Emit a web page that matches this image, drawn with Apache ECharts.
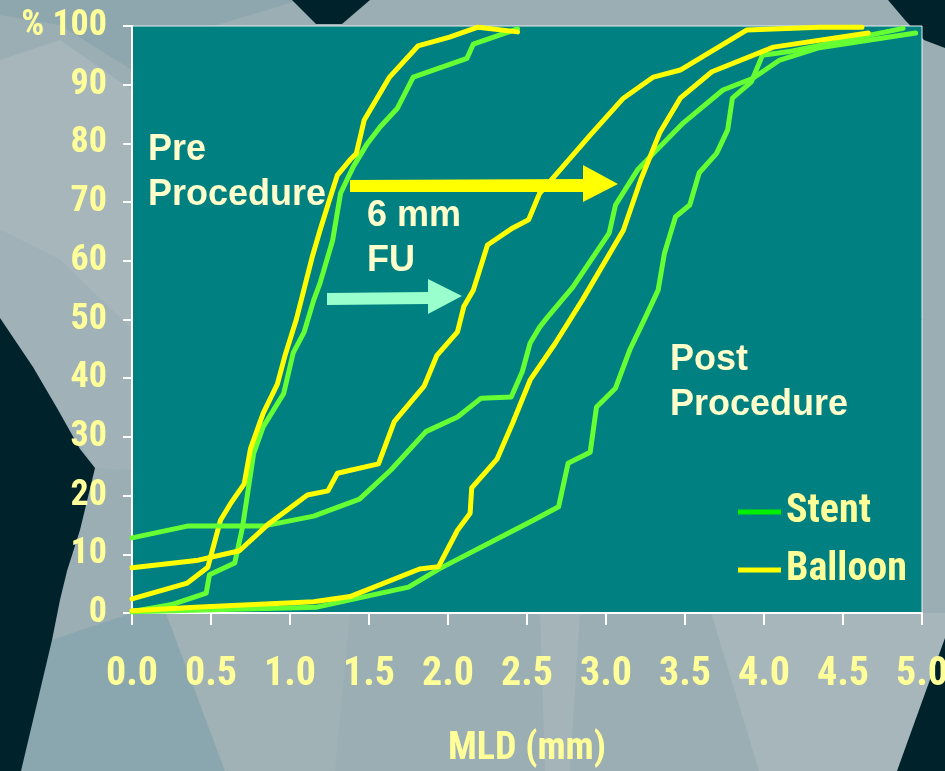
<!DOCTYPE html>
<html>
<head>
<meta charset="utf-8">
<script src="https://cdn.jsdelivr.net/npm/echarts@6/dist/echarts.min.js"></script>
<style>
html,body{margin:0;padding:0;background:#98adb3;}
#c{width:945px;height:771px;}
</style>
</head>
<body>
<div id="c"></div>
<script>
// ---- data (MLD in mm, cumulative %) ----
var preStent = [[0,0.2],[0.26,1.5],[0.47,3.4],[0.49,6.5],[0.65,8.5],[0.70,14.7],[0.77,27.2],[0.83,31.7],[0.96,37.4],[1.02,44.3],[1.09,47.9],[1.15,53.3],[1.19,56.2],[1.27,63.5],[1.32,71.5],[1.40,76],[1.49,80],[1.57,82.8],[1.68,86],[1.78,91.3],[2.12,94.5],[2.16,96.9],[2.44,99.5]];
var preBalloon = [[0,2.4],[0.35,5.1],[0.48,7.8],[0.56,15.8],[0.63,18.9],[0.71,22],[0.75,28],[0.83,34],[0.92,39],[0.97,44],[1.04,50],[1.14,60.6],[1.19,65.2],[1.25,70.4],[1.30,74.6],[1.38,77.2],[1.42,78.3],[1.47,84],[1.63,91.3],[1.81,96.6],[2.01,98.1],[2.19,99.8],[2.44,99]];
var fuStent = [[0,12.8],[0.35,14.8],[0.83,14.8],[1.15,16.5],[1.44,19.4],[1.64,24.4],[1.86,30.9],[2.06,33.4],[2.21,36.6],[2.40,36.8],[2.47,41.1],[2.52,46],[2.58,48.7],[2.63,50.4],[2.79,55.5],[3.02,64.7],[3.06,69.5],[3.20,75.5],[3.30,78.3],[3.49,83.5],[3.74,89.1],[3.93,91.1],[4.10,94.2],[4.35,96.3],[4.96,98.8]];
var fuBalloon = [[0,7.7],[0.42,9],[0.68,10.6],[0.87,15.3],[1.11,20.1],[1.24,20.8],[1.30,23.8],[1.56,25.4],[1.66,32.6],[1.85,38.7],[1.93,43.9],[2.06,47.9],[2.10,52.2],[2.16,55],[2.25,62.7],[2.41,65.6],[2.51,67],[2.58,71.5],[2.90,81.4],[3.11,87.7],[3.30,91.3],[3.47,92.5],[3.89,99.3],[4.35,99.8],[4.62,99.8]];
var postStent = [[0,0.2],[1.17,1],[1.75,4.4],[1.95,7.6],[2.54,15.8],[2.70,18.1],[2.76,25.5],[2.90,27.4],[2.94,35.1],[3.06,38.3],[3.15,44.8],[3.25,50.4],[3.33,55],[3.37,61.3],[3.44,67.5],[3.53,69.5],[3.59,75],[3.70,78.3],[3.77,82.3],[3.80,87.7],[3.92,90.5],[3.99,95],[4.15,95.6],[4.88,99.6]];
var postBalloon = [[0,0.4],[0.4,1],[1.15,1.9],[1.38,2.8],[1.82,7.5],[1.94,7.9],[2.06,14.1],[2.14,17],[2.15,21.3],[2.31,26.2],[2.41,32.4],[2.52,39.7],[2.68,46],[2.85,53.3],[3.11,65.2],[3.22,73.8],[3.34,81.8],[3.47,87.7],[3.67,92.2],[4.06,96.4],[4.66,98.8]];
var xTickLabels = ['0.0','0.5','1.0','1.5','2.0','2.5','3.0','3.5','4.0','4.5','5.0'];
var yTopLabel = '% 100';
var legendNames = ['Stent','Balloon'];
var xName = 'MLD (mm)';
var notes = ['Pre\nProcedure','6 mm\nFU','Post\nProcedure'];

var GREEN = '#66ff33', YELLOW = '#ffff00';
var NARROW = "Roboto,'Open Sans',sans-serif";
var SANS = "'Liberation Sans',Arial,sans-serif";
var LABEL = '#ffff99';

function mk(name, data, color){
  return {name:name, type:'line', data:data, symbol:'none', showSymbol:false, silent:true,
    lineStyle:{width:5, color:color, cap:'round', join:'round'}, itemStyle:{color:color}, z:5};
}

var bg = [
  {pts:[[0,0],[945,0],[945,771],[0,771]], c:'#9aaeb4'},
  {pts:[[0,0],[300,0],[200,30],[132,70],[60,25],[0,15]], c:'#8ea6ad'},
  {pts:[[0,60],[60,40],[132,90],[132,330],[60,260],[0,230]], c:'#a6b6bb'},
  {pts:[[0,230],[60,260],[132,330],[132,470],[95,468],[0,318]], c:'#a0b2b7'},
  {pts:[[132,613],[166,613],[225,771],[20,771],[52,640]], c:'#8aa6ae'},
  {pts:[[166,613],[350,613],[335,771],[225,771]], c:'#a1b2b7'},
  {pts:[[540,613],[580,613],[570,771],[545,771]], c:'#a4b4b9'},
  {pts:[[711,613],[945,613],[945,640],[897,771],[759,771]], c:'#a6b6ba'},
  {pts:[[0,318],[33,367],[57,408],[80,449],[95,468],[80,530],[67,571],[60,600],[52,640],[21,771],[0,771]], c:'#00222b'},
  {pts:[[945,638],[945,771],[897,771]], c:'#00222b'},
  {pts:[[292,0],[370,0],[342,24],[316,24]], c:'#00222b'},
  {pts:[[888,0],[945,0],[945,48],[924,40],[905,20]], c:'#00222b'}
];
var graphics = bg.map(function(b){
  return {type:'polygon', silent:true, z:-10, shape:{points:b.pts}, style:{fill:b.c}};
});
graphics.push({type:'polygon', z:50, silent:true, shape:{points:[[350,180],[583,179],[583,165],[618,184],[583,202],[583,192],[350,192]]}, style:{fill:'#ffff00'}});
graphics.push({type:'polygon', z:50, silent:true, shape:{points:[[327,293],[428,292],[428,279],[462,296],[428,314],[428,304],[327,305]]}, style:{fill:'#99ffcc'}});
var notePos = [[148,128],[367,194],[670,338]];
notes.forEach(function(t,i){
  graphics.push({type:'text', z:60, silent:true, left:notePos[i][0], top:notePos[i][1],
    style:{text:t, fill:'#ffffcc', font:'bold 36px '+SANS, lineHeight:45}});
});

var narrowStyle = function(size){
  return {color:LABEL, fontSize:size, fontWeight:'bold', fontStyle:'condensed', fontFamily:NARROW};
};

var chart = echarts.init(document.getElementById('c'), null, {renderer:'canvas'});
chart.setOption({
  backgroundColor:'transparent',
  animation:false,
  grid:{left:132, top:26, width:790, height:587, show:true, backgroundColor:'#008080', borderColor:'#e8f0f0', borderWidth:1, outerBoundsMode:'none', containLabel:false},
  xAxis:{type:'value', min:0, max:5, interval:0.5,
    name:xName, nameLocation:'middle', nameGap:117,
    nameTextStyle:narrowStyle(38),
    axisLine:{show:true, lineStyle:{color:'#ffffff', width:2}},
    axisTick:{show:true, length:12, lineStyle:{color:'#ffffff', width:2}},
    axisLabel:Object.assign(narrowStyle(40), {margin:42,
      formatter:function(v){ return xTickLabels[Math.round(v/0.5)]; }}),
    splitLine:{show:false}},
  yAxis:{type:'value', min:0, max:100, interval:10,
    axisLine:{show:true, lineStyle:{color:'#ffffff', width:2}},
    axisTick:{show:true, length:9, lineStyle:{color:'#ffffff', width:2}},
    axisLabel:Object.assign(narrowStyle(36), {margin:25,
      formatter:function(v){ return v===100 ? yTopLabel : String(v); }}),
    splitLine:{show:false}},
  legend:{orient:'vertical', left:738, top:492, padding:0, itemWidth:43, itemHeight:5, itemGap:18, icon:'rect',
    textStyle:narrowStyle(40),
    data:[{name:legendNames[0], itemStyle:{color:'#00ee00'}},{name:legendNames[1], itemStyle:{color:'#ffff00'}}]},
  graphic:graphics,
  series:[
    mk(legendNames[0], preStent, GREEN),
    mk(legendNames[1], preBalloon, YELLOW),
    mk(legendNames[0], fuStent, GREEN),
    mk(legendNames[1], fuBalloon, YELLOW),
    mk(legendNames[0], postStent, GREEN),
    mk(legendNames[1], postBalloon, YELLOW)
  ]
});
</script>
</body>
</html>
